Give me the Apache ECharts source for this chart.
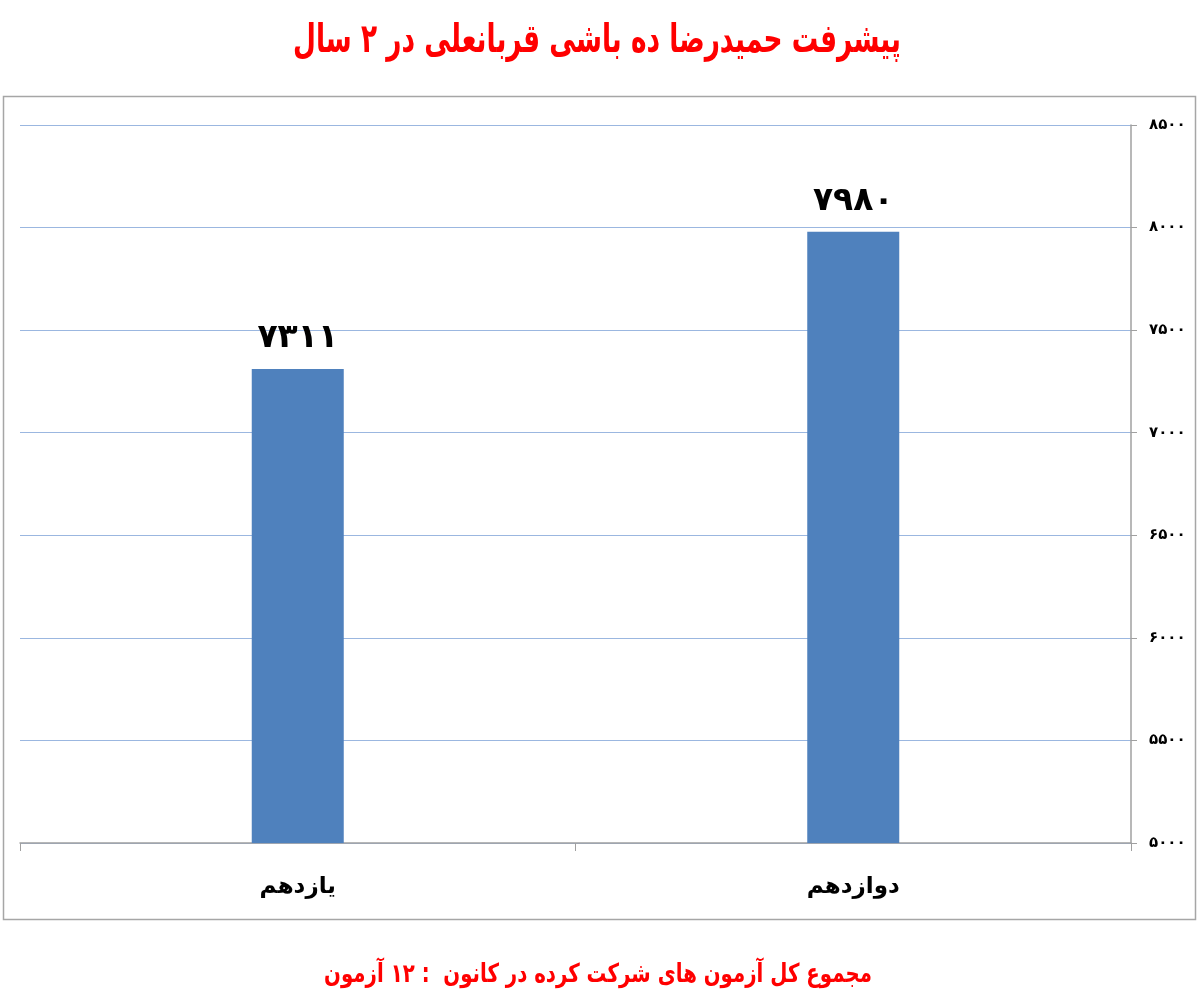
<!DOCTYPE html>
<html>
<head>
<meta charset="utf-8">
<script src="https://cdn.jsdelivr.net/npm/echarts@6/dist/echarts.min.js"></script>
<style>
  html, body { margin: 0; padding: 0; background: #fff; }
  #chart { width: 1200px; height: 1005px; }
</style>
</head>
<body>
<div id="chart"></div>
<script>
// داده‌های نمودار
var categories = ['یازدهم', 'دوازدهم'];
var scores = [7311, 7980];
var yTicks = [5000, 5500, 6000, 6500, 7000, 7500, 8000, 8500];

var titleText = 'پیشرفت حمیدرضا ده باشی قربانعلی در ۲ سال';
var footerText = 'مجموع کل آزمون های شرکت کرده در کانون  : ۱۲ آزمون';

// تبدیل ارقام به فارسی
function fa(n) {
    return String(n).replace(/\d/g, function (d) { return '۰۱۲۳۴۵۶۷۸۹'[d]; });
}

var myChart = echarts.init(document.getElementById('chart'));

var option = {
    backgroundColor: '#fff',
    textStyle: { fontFamily: 'DejaVu Sans' },
    graphic: [{
        type: 'rect',
        shape: { x: 3.5, y: 96.5, width: 1192, height: 823 },
        style: { fill: 'none', stroke: '#a6a6a6', lineWidth: 1.5 },
        z: -1
    }, {
        // عنوان (فشرده شده افقی)
        type: 'text',
        x: 597, y: 42,
        scaleX: 0.66,
        style: {
            text: titleText, textAlign: 'center', textVerticalAlign: 'middle',
            fill: '#ff0000', font: 'bold 40px "DejaVu Sans"'
        }
    }, {
        type: 'text',
        x: 598, y: 975,
        scaleX: 0.76,
        style: {
            text: footerText, textAlign: 'center', textVerticalAlign: 'middle',
            fill: '#ff0000', font: 'bold 26px "DejaVu Sans"'
        }
    }],
    grid: { left: 20, right: 69, top: 125, bottom: 162 },
    xAxis: {
        type: 'category',
        data: categories,
        axisLine: { lineStyle: { color: '#a0a0a0', width: 1.5 } },
        axisTick: { show: true, length: 8, lineStyle: { color: '#a0a0a0' } },
        axisLabel: { color: '#000', fontSize: 23, fontWeight: 'bold', margin: 33 }
    },
    yAxis: {
        type: 'value',
        position: 'right',
        min: yTicks[0],
        max: yTicks[yTicks.length - 1],
        interval: 500,
        axisLine: { show: true, lineStyle: { color: '#a0a0a0', width: 1.5 } },
        axisTick: { show: true, length: 6, lineStyle: { color: '#a0a0a0' } },
        axisLabel: { color: '#000', fontSize: 15, fontWeight: 'bold', margin: 18, formatter: function (v) { return fa(v); } },
        splitLine: { lineStyle: { color: '#9bb7e0', width: 1.2 } }
    },
    series: [{
        type: 'bar',
        data: scores,
        barWidth: 92,
        itemStyle: { color: '#4f81bd' },
        label: {
            show: true,
            position: 'top',
            distance: 14,
            color: '#000',
            fontSize: 33,
            fontWeight: 'bold',
            formatter: function (p) { return fa(p.value); }
        }
    }]
};

myChart.setOption(option);
</script>
</body>
</html>
